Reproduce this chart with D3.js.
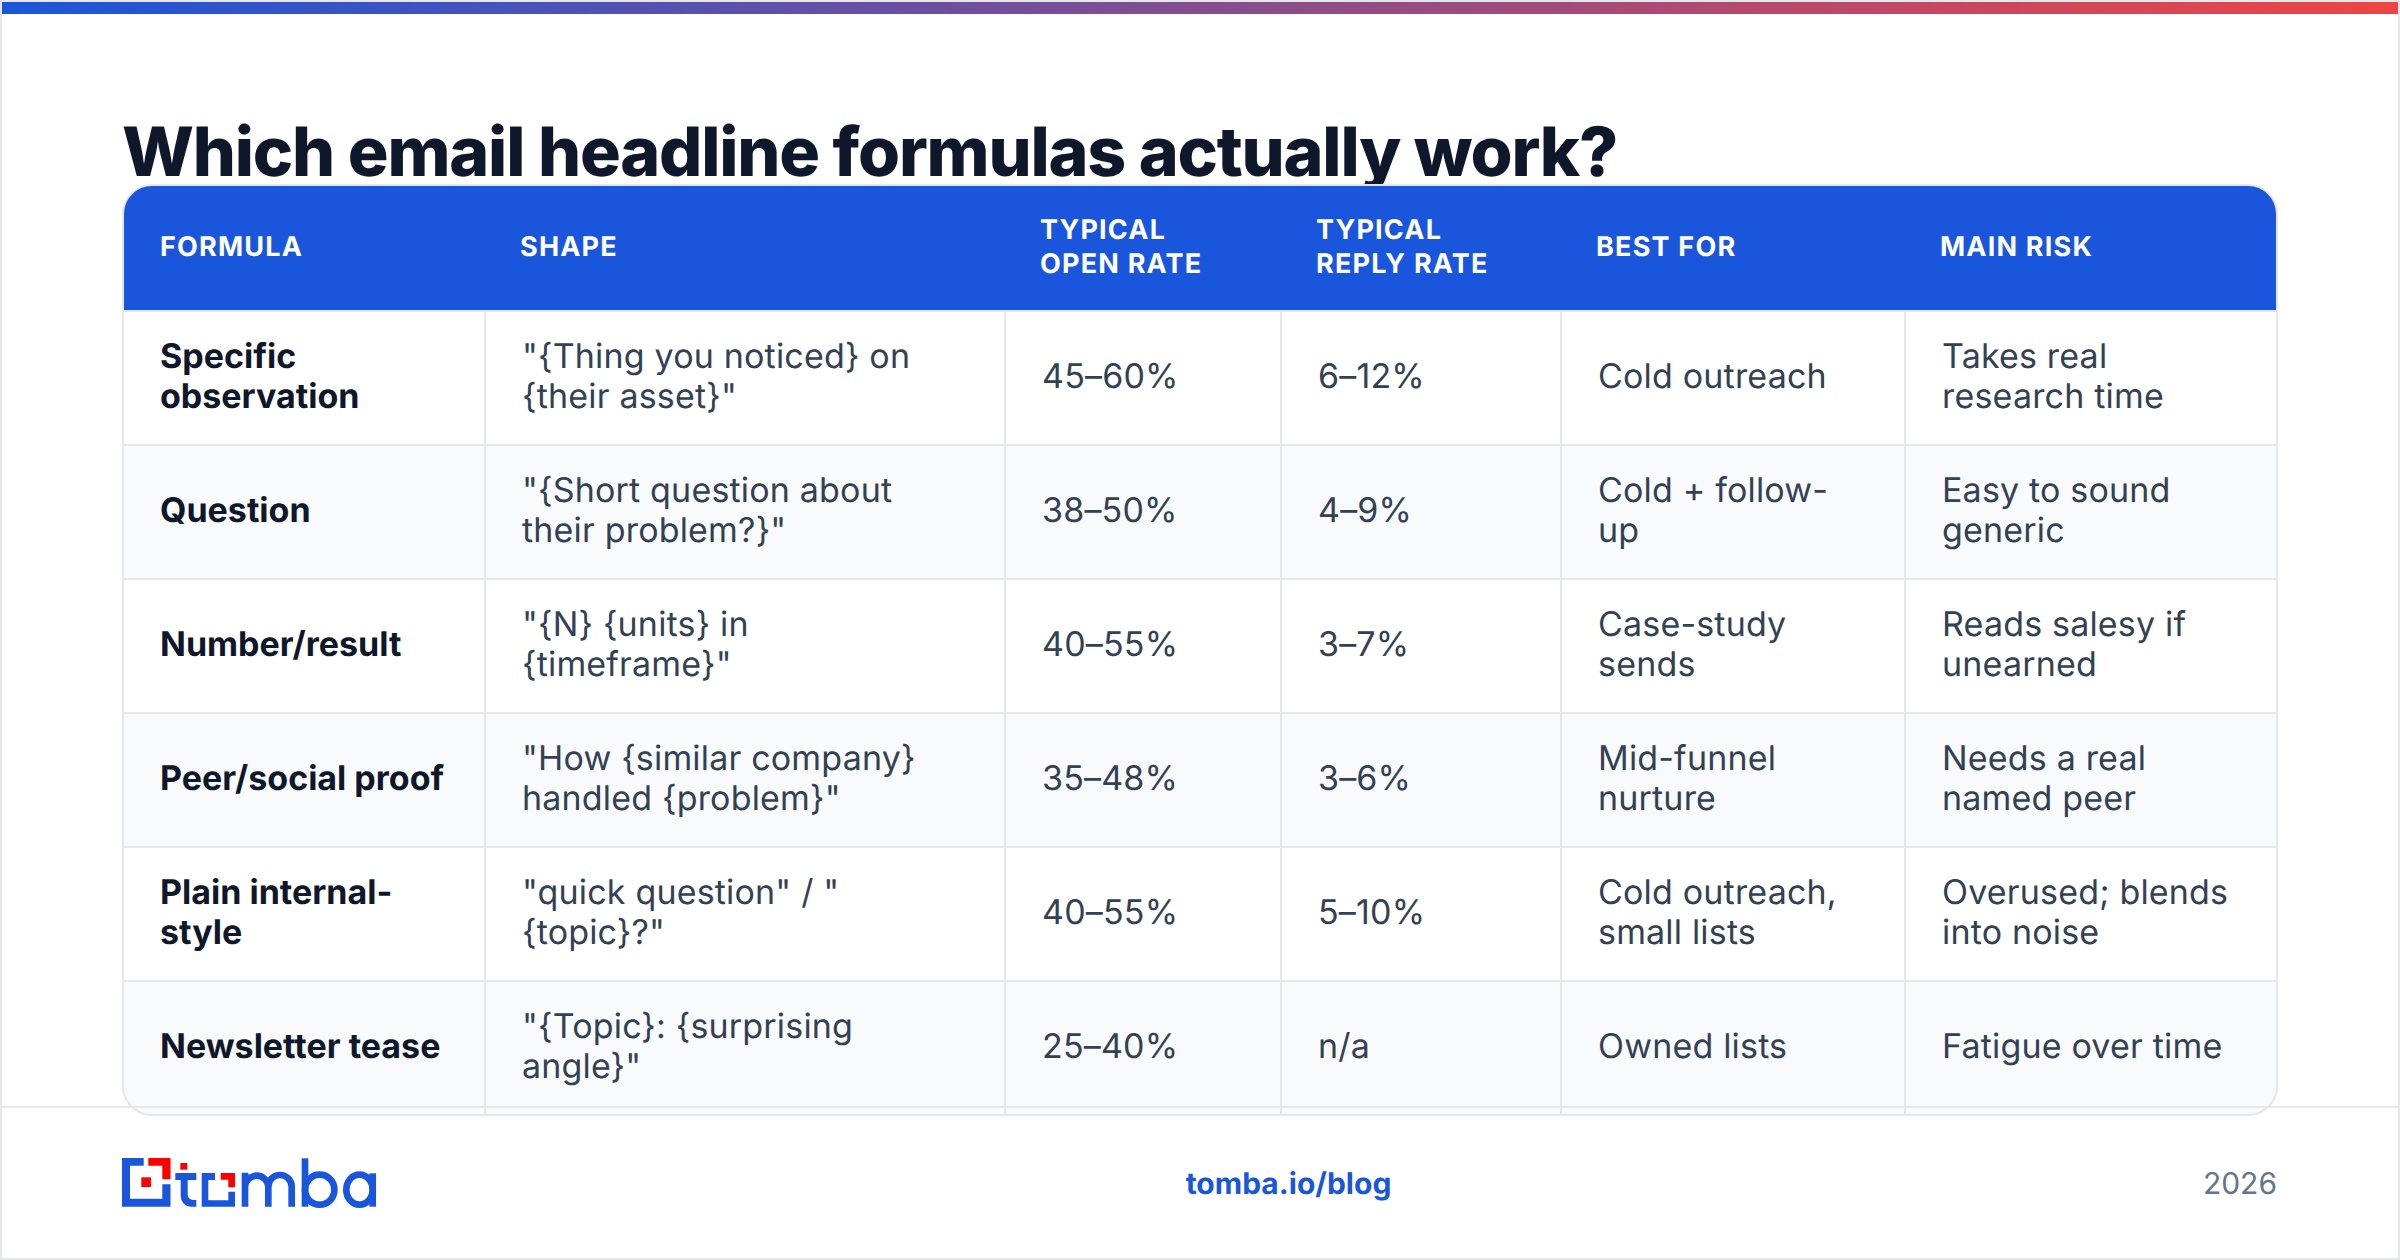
<!DOCTYPE html>
<html><head><meta charset="utf-8">
<script src="https://cdn.jsdelivr.net/npm/d3@7"></script>
<style>html,body{margin:0;padding:0;background:#fff}svg{display:block}text{font-family:Inter,sans-serif;text-rendering:geometricPrecision}</style>
</head><body><div id="c"></div>
<script>
const titleText = "Which email headline formulas actually work?";
const headers = ["FORMULA","SHAPE","TYPICAL\nOPEN RATE","TYPICAL\nREPLY RATE","BEST FOR","MAIN RISK"];
const formulas = ["Specific\nobservation","Question","Number/result","Peer/social proof","Plain internal-\nstyle","Newsletter tease"];
const shapes = ['"{Thing you noticed} on\n{their asset}"','"{Short question about\ntheir problem?}"','"{N} {units} in\n{timeframe}"','"How {similar company}\nhandled {problem}"','"quick question" / "\n{topic}?"','"{Topic}: {surprising\nangle}"'];
const openRates = ["45–60%","38–50%","40–55%","35–48%","40–55%","25–40%"];
const replyRates = ["6–12%","4–9%","3–7%","3–6%","5–10%","n/a"];
const bestFor = ["Cold outreach","Cold + follow-\nup","Case-study\nsends","Mid-funnel\nnurture","Cold outreach,\nsmall lists","Owned lists"];
const mainRisk = ["Takes real\nresearch time","Easy to sound\ngeneric","Reads salesy if\nunearned","Needs a real\nnamed peer","Overused; blends\ninto noise","Fatigue over time"];
const footerLink = "tomba.io/blog";
const footerYear = "2026";

const W=2400,H=1260;
const T={x0:124,x1:2276,y0:186,head:310,rowTop:312,rowH:134,y1:1114};
const colEdges=[124,485,1005,1281,1561,1905,2276];
const columns=[formulas,shapes,openRates,replyRates,bestFor,mainRisk];
const BORDER="#e5e7eb",BLUE="#1a56db",RED="#ff0000";

const svg=d3.select("#c").append("svg").attr("width",W).attr("height",H).attr("viewBox",`0 0 ${W} ${H}`);
const defs=svg.append("defs");
const grad=defs.append("linearGradient").attr("id","bar");
grad.append("stop").attr("offset","0").attr("stop-color",BLUE);
grad.append("stop").attr("offset","1").attr("stop-color","#ef4444");
defs.append("clipPath").attr("id","tc").append("rect").attr("x",T.x0-1).attr("y",T.y0-1).attr("width",T.x1-T.x0+2).attr("height",T.y1-T.y0+2).attr("rx",29);

svg.append("rect").attr("x",1).attr("y",1).attr("width",W-2).attr("height",H-2).attr("fill","#fff").attr("stroke",BORDER).attr("stroke-width",2);
svg.append("rect").attr("x",2).attr("y",2).attr("width",W-4).attr("height",12).attr("fill","url(#bar)");

svg.append("text").attr("x",T.x0-2).attr("y",176).attr("font-size",68).attr("font-weight",800).attr("letter-spacing",-1.2).attr("fill","#0f172a").text(titleText);

const rowIdx=d3.range(formulas.length);
const rowY=d3.scaleLinear().domain([0,1]).range([T.rowTop,T.rowTop+T.rowH]);
const g=svg.append("g").attr("clip-path","url(#tc)");
g.append("rect").attr("x",T.x0).attr("y",T.y0).attr("width",T.x1-T.x0).attr("height",T.head-T.y0).attr("fill",BLUE);
g.append("rect").attr("x",T.x0).attr("y",T.head).attr("width",T.x1-T.x0).attr("height",2).attr("fill",BORDER);
g.selectAll("rect.row").data(rowIdx).join("rect").attr("class","row")
  .attr("x",T.x0).attr("y",i=>rowY(i)).attr("width",T.x1-T.x0).attr("height",T.rowH)
  .attr("fill",i=>i%2?"#f8fafc":"#fff");
g.selectAll("rect.rowline").data(rowIdx).join("rect").attr("class","rowline")
  .attr("x",T.x0).attr("y",i=>rowY(i+1)-2).attr("width",T.x1-T.x0).attr("height",2).attr("fill",BORDER);
g.selectAll("rect.col").data(colEdges.slice(1,-1)).join("rect").attr("class","col")
  .attr("x",d=>d-1).attr("y",T.rowTop).attr("width",2).attr("height",T.y1-T.rowTop).attr("fill",BORDER);

function lines(sel,str,x,cy,lh){
  const ls=str.split("\n");
  ls.forEach((l,k)=>sel.append("tspan").attr("x",x).attr("y",cy+(k-(ls.length-1)/2)*lh).text(l));
}
headers.forEach((h,c)=>{
  const t=svg.append("text").attr("font-size",27).attr("font-weight",700).attr("letter-spacing",1.2).attr("fill","#fff").attr("dominant-baseline","central");
  lines(t,h,colEdges[c]+(c?35:36),245.5,34);
});
columns.forEach((col,c)=>col.forEach((v,i)=>{
  const t=svg.append("text").attr("font-size",34).attr("font-weight",c==0?700:400).attr("letter-spacing",c==0?0:0.18).attr("fill",c==0?"#0f172a":"#334155").attr("dominant-baseline","central");
  lines(t,v,colEdges[c]+36+(c?1:0),rowY(i)+63.5,40);
}));
svg.append("rect").attr("x",T.x0-1).attr("y",T.y0-1).attr("width",T.x1-T.x0+2).attr("height",T.y1-T.y0+2).attr("rx",29).attr("fill","none").attr("stroke",BORDER).attr("stroke-width",2);

svg.append("rect").attr("x",2).attr("y",1106).attr("width",W-4).attr("height",2).attr("fill",BORDER);

svg.append("text").attr("x",1288.5).attr("y",1194).attr("text-anchor","middle").attr("font-size",30).attr("font-weight",700).attr("fill",BLUE).text(footerLink);
svg.append("text").attr("x",2277).attr("y",1194).attr("text-anchor","end").attr("font-size",30).attr("fill","#64748b").text(footerYear);

const logo=svg.append("g");
[["M122,1158H143.7V1165.7H130V1198.7H162.3V1184.3H170.5V1206.7H122Z",BLUE],
 ["M148.3,1158H170.5V1179.3H162.3V1165.7H148.3Z",RED],
 ["M141.3,1177.3H151V1187H141.3Z",RED],
 ["M180.3,1163H187.3V1169.7H180.3Z",RED],
 ["M175.3,1173H196.3V1180H187.7V1195A5.3,5.3 0 0 0 193,1200H196.3V1206.7H191A10.3,10.3 0 0 1 180.7,1196.4V1180H175.3Z",BLUE],
 ["M201.7,1173H215V1180H208.3V1200.3H228.3V1191.7H235V1206.7H201.7Z",BLUE],
 ["M220.7,1173H235V1187.3H228.3V1179.7H220.7Z",RED]
].forEach(([d,f])=>logo.append("path").attr("d",d).attr("fill",f));
[["M245,1206.7V1172.7M245,1186.7A11.67,11.67 0 0 1 268.3,1186.7V1206.7M268.3,1186.7A11.67,11.67 0 0 1 291.7,1186.7V1206.7"],
 ["M305,1158.3V1206.7"],
 ["M372.7,1173.3V1206.7"]
].forEach(([d])=>logo.append("path").attr("d",d).attr("fill","none").attr("stroke",BLUE).attr("stroke-width",6.7));
logo.append("ellipse").attr("cx",319.7).attr("cy",1189.7).attr("rx",14.7).attr("ry",15).attr("fill","none").attr("stroke",BLUE).attr("stroke-width",6.7);
logo.append("ellipse").attr("cx",359.5).attr("cy",1189.7).attr("rx",13.2).attr("ry",15).attr("fill","none").attr("stroke",BLUE).attr("stroke-width",6.7);
</script></body></html>
